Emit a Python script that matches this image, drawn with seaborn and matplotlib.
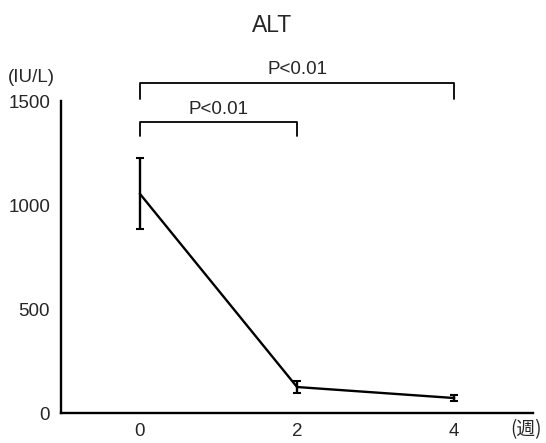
import matplotlib
matplotlib.use('Agg')

import matplotlib.pyplot as plt
import seaborn as sns
import pandas as pd

weeks = [0, 2, 4]
alt_mean = [1055, 125, 72]
alt_err = [170, 30, 15]
week_ticks = [0, 2, 4]
alt_ticks = [0, 500, 1000, 1500]

sns.set_style('white')
plt.rcParams['font.family'] = ['Liberation Sans', 'Noto Sans CJK JP', 'DejaVu Sans']

df = pd.DataFrame({'week': weeks, 'alt': alt_mean})

fig = plt.figure(figsize=(5.46, 4.43), dpi=100)
ax = fig.add_axes([0.112, 0.0677, 0.864, 0.704])

sns.lineplot(data=df, x='week', y='alt', color='black', linewidth=1.7, ax=ax)
ax.errorbar(weeks, alt_mean, yerr=alt_err, fmt='none', ecolor='black',
            elinewidth=1.7, capsize=3, capthick=1.5)

ax.set_xlim(-1, 5)
ax.set_ylim(0, 1500)
ax.set_xticks(week_ticks)
ax.set_yticks(alt_ticks)
ax.tick_params(axis='both', labelsize=13.5, length=3, width=1, color='black',
               direction='in', pad=7)
ax.tick_params(axis='y', direction='out', pad=5)
for s in ['top', 'right']:
    ax.spines[s].set_visible(False)
for s in ['left', 'bottom']:
    ax.spines[s].set_color('black')
    ax.spines[s].set_linewidth(1.7)
ax.set_xlabel('')
ax.set_ylabel('')

# brackets with significance
def bracket(x1, x2, y, h, text):
    ax.plot([x1, x1, x2, x2], [y - h, y, y, y - h], color='black', lw=1.3, clip_on=False)
    ax.text((x1 + x2) / 2, y + 22, text, ha='center', va='bottom', fontsize=13.5, clip_on=False)

bracket(0, 4, 1587, 77, 'P<0.01')
bracket(0, 2, 1399, 67, 'P<0.01')

fig.text(0.498, 0.943, 'ALT', ha='center', va='center', fontsize=16.5)
fig.text(0.058, 0.826, '(IU/L)', ha='center', va='center', fontsize=13.5)
fig.text(0.963, 0.03, '(週)', ha='center', va='center', fontsize=13.5,
         family=['Noto Sans CJK JP', 'DejaVu Sans'])

plt.savefig('out.png', dpi=100)
